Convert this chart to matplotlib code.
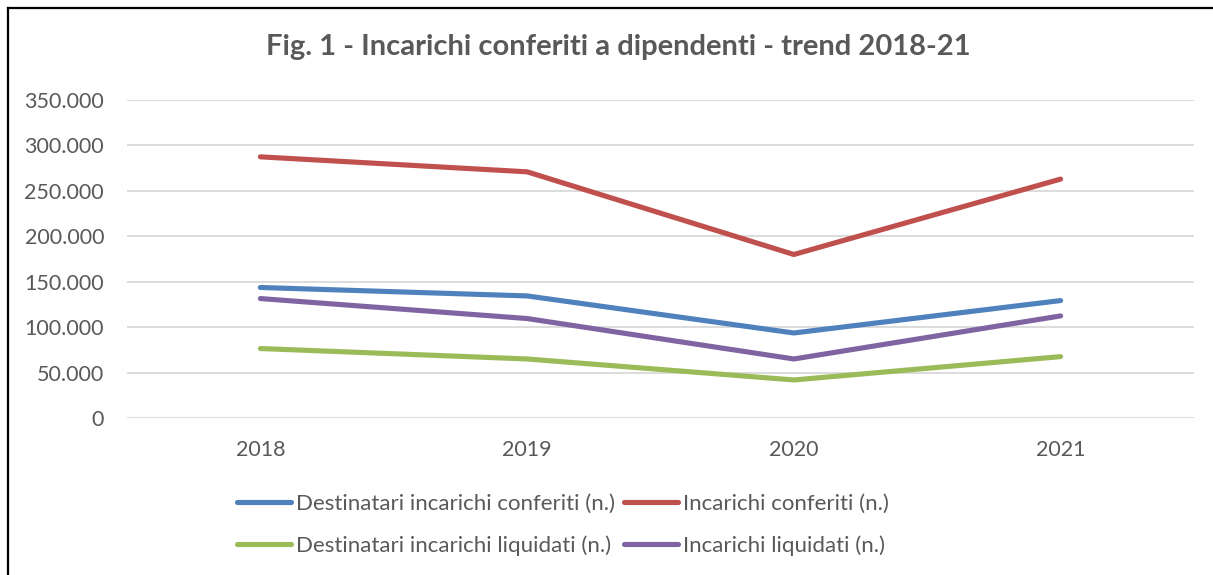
import matplotlib
matplotlib.use("Agg")
import matplotlib.pyplot as plt
from matplotlib.lines import Line2D
from matplotlib.ticker import FuncFormatter
import numpy as np

plt.rcParams['font.family'] = ['Lato', 'DejaVu Sans']

years = ['2018', '2019', '2020', '2021']
destinatari_conferiti = [143700, 134400, 93600, 129300]
incarichi_conferiti = [287500, 271000, 180000, 263000]
destinatari_liquidati = [76500, 65000, 41900, 67600]
incarichi_liquidati = [131500, 109500, 65000, 112400]

text_col = '#595959'
grid_col = '#D9D9D9'

fig = plt.figure(figsize=(12.13, 5.75), dpi=100)
ax = fig.add_axes([0.1047, 0.273, 0.8796, 0.553])

x = np.arange(len(years))
lw = 3.7
l_dc, = ax.plot(x, destinatari_conferiti, color='#4F81BD', lw=lw, solid_capstyle='round',
                solid_joinstyle='round', label='Destinatari incarichi conferiti (n.)')
l_ic, = ax.plot(x, incarichi_conferiti, color='#C0504D', lw=lw, solid_capstyle='round',
                solid_joinstyle='round', label='Incarichi conferiti (n.)')
l_dl, = ax.plot(x, destinatari_liquidati, color='#9BBB59', lw=lw, solid_capstyle='round',
                solid_joinstyle='round', label='Destinatari incarichi liquidati (n.)')
l_il, = ax.plot(x, incarichi_liquidati, color='#8064A2', lw=lw, solid_capstyle='round',
                solid_joinstyle='round', label='Incarichi liquidati (n.)')

ax.set_xlim(-0.5, len(years) - 0.5)
ax.set_ylim(0, 350000)
ax.set_yticks(np.arange(0, 350001, 50000))
ax.yaxis.set_major_formatter(FuncFormatter(lambda v, p: '{:,.0f}'.format(v).replace(',', '.')))
ax.set_xticks(x)
ax.set_xticklabels(years)
ax.tick_params(axis='both', length=0, labelsize=15.5, colors=text_col)
ax.tick_params(axis='x', pad=16)
ax.tick_params(axis='y', pad=16.5)
ax.grid(axis='y', color=grid_col, lw=1.3)
ax.set_axisbelow(True)
for s in ax.spines.values():
    s.set_visible(False)

fig.text(0.51, 0.918, 'Fig. 1 - Incarichi conferiti a dipendenti - trend 2018-21',
         ha='center', va='center', fontsize=21, fontweight='bold', color=text_col)

fig.legend(handles=[l_dc, l_dl, l_ic, l_il], ncol=2, loc='center',
           bbox_to_anchor=(0.464, 0.087), frameon=False, fontsize=16,
           labelcolor=text_col, handlelength=2.45, handletextpad=0.22,
           columnspacing=0.4, labelspacing=0.95)

# border of the chart area (only top and left visible)
fig.add_artist(Line2D([8 / 1213, 1.0], [1 - 8 / 575, 1 - 8 / 575], color='black', lw=1.6,
                      transform=fig.transFigure))
fig.add_artist(Line2D([8 / 1213, 8 / 1213], [0.0, 1 - 8 / 575], color='black', lw=1.6,
                      transform=fig.transFigure))

fig.savefig('out.png', dpi=100)
